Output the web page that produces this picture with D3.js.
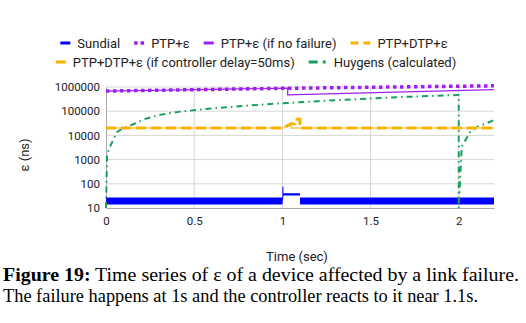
<!DOCTYPE html>
<html>
<head>
<meta charset="utf-8">
<script src="https://cdn.jsdelivr.net/npm/d3@7"></script>
<style>
  body { margin: 0; background: #fff; }
  svg text { font-family: Roboto, "Noto Sans", sans-serif; }
</style>
</head>
<body>
<div id="container"></div>
<script>
// ---- data ----
const timeTicks = [0, 0.5, 1, 1.5, 2];
const epsTicks = [10, 100, 1000, 10000, 100000, 1000000];

const sundialT    = [0, 1.0, 1.0, 1.006, 1.006, 1.1, 1.1, 2.2];
const sundialHigh = [27, 27, 76, 76, 41, 41, 27, 27];
const sundialLow  = [14, 14, 14, 33, 33, 33, 14, 14];

const ptpT = [0, 1, 2.2];
const ptp  = [680000, 880000, 1120000];

const ptpNoFailT = [0, 1.03, 1.03, 2.2];
const ptpNoFail  = [680000, 890000, 470000, 780000];

const dtpT = [0, 1.0, 1.05, 1.07, 1.07, 1.1, 1.1, 2.2];
const dtp  = [20000, 20000, 30000, 30000, 46000, 46000, 20000, 20000];

const delay50T = [0, 1.0, 1.05, 1.05, 2.2];
const delay50  = [20000, 20000, 30000, 20000, 20000];

const huygensT = [0, 0.006, 0.019, 0.063, 0.098, 0.155, 0.223, 0.3, 0.42, 0.6, 0.8, 0.987, 1.2, 1.44, 1.7, 2.0, 2.0, 2.017, 2.065, 2.11, 2.19, 2.2];
const huygens  = [10, 1500, 3000, 14000, 20000, 29000, 48000, 70000, 96000, 130000, 170000, 210000, 260000, 320000, 390000, 470000, 10, 3400, 14000, 23000, 40000, 42000];

const legendRow1 = ["Sundial", "PTP+ε", "PTP+ε (if no failure)", "PTP+DTP+ε"];
const legendRow2 = ["PTP+DTP+ε (if controller delay=50ms)", "Huygens (calculated)"];

const config = {
    width: 526,
    height: 323,
    left: 106,
    right: 494,
    top: 87,
    bottom: 208,
}

const colors = {
    sundial: '#0000ff',
    ptp: '#9d1ff2',
    dtp: '#f5b400',
    delay: '#fbd27a',
    huygens: '#16a05d',
}

const svg = d3.select('#container')
    .append('svg')
    .attr('width', config.width)
    .attr('height', config.height)

const x = d3.scaleLinear()
    .domain([0, 2.2])
    .range([config.left, config.right])

const y = d3.scaleLog()
    .domain([10, 1000000])
    .range([config.bottom, config.top])

// grid
svg.append('g')
    .selectAll('line')
    .data(epsTicks.slice(1))
    .join('line')
    .attr('x1', config.left)
    .attr('x2', config.right)
    .attr('y1', d => y(d))
    .attr('y2', d => y(d))
    .attr('stroke', '#d6d6d6')

svg.append('g')
    .selectAll('line')
    .data(timeTicks.slice(1))
    .join('line')
    .attr('x1', d => x(d))
    .attr('x2', d => x(d))
    .attr('y1', config.top)
    .attr('y2', config.bottom)
    .attr('stroke', '#d6d6d6')

// axes
const yAxis = svg.append('g')
    .attr('transform', `translate(${config.left},0)`)
    .call(d3.axisLeft(y).tickValues(epsTicks).tickFormat(d3.format('d')).tickSize(0).tickPadding(6))
yAxis.select('.domain').attr('stroke', '#aaa')
yAxis.selectAll('text').style('font-size', '11.5px').attr('fill', '#222')

const xAxis = svg.append('g')
    .attr('transform', `translate(0,${config.bottom})`)
    .call(d3.axisBottom(x).tickValues(timeTicks).tickFormat(d3.format('~g')).tickSize(0).tickPadding(9))
xAxis.select('.domain').attr('stroke', '#aaa')
xAxis.selectAll('text').style('font-size', '11.5px').attr('fill', '#222')

svg.append('text')
    .attr('text-anchor', 'middle')
    .attr('transform', 'translate(29,155) rotate(-90)')
    .style('font-size', '13px')
    .attr('fill', '#222')
    .text('ε (ns)')

svg.append('text')
    .attr('text-anchor', 'middle')
    .attr('x', 297)
    .attr('y', 261)
    .style('font-size', '13px')
    .attr('fill', '#222')
    .text('Time (sec)')

// series
const zip = (ts, vs) => ts.map((t, i) => [t, vs[i]])
const line = d3.line().x(d => x(d[0])).y(d => y(d[1]))

svg.append('path')
    .datum(sundialT.map((t, i) => [t, sundialLow[i], sundialHigh[i]]))
    .attr('d', d3.area().x(d => x(d[0])).y0(d => y(d[1])).y1(d => y(d[2])))
    .attr('fill', colors.sundial)

svg.append('path')
    .datum(zip(huygensT, huygens))
    .attr('d', line)
    .attr('fill', 'none')
    .attr('stroke', colors.huygens)
    .attr('stroke-width', 2)
    .attr('stroke-dasharray', '6,4,1.5,4')

svg.append('path')
    .datum(zip(delay50T, delay50))
    .attr('d', line)
    .attr('fill', 'none')
    .attr('stroke', colors.delay)
    .attr('stroke-width', 2)

svg.append('path')
    .datum(zip(dtpT, dtp))
    .attr('d', line)
    .attr('fill', 'none')
    .attr('stroke', colors.dtp)
    .attr('stroke-width', 3)
    .attr('stroke-dasharray', '10,5')

svg.append('path')
    .datum(zip(ptpNoFailT, ptpNoFail))
    .attr('d', line)
    .attr('fill', 'none')
    .attr('stroke', colors.ptp)
    .attr('stroke-width', 1.2)

svg.append('path')
    .datum(zip(ptpT, ptp))
    .attr('d', line)
    .attr('fill', 'none')
    .attr('stroke', colors.ptp)
    .attr('stroke-width', 3.5)
    .attr('stroke-dasharray', '3.5,3.5')

// legend
const legendStyles = {
    "Sundial": {stroke: colors.sundial, w: 10, width: 3, dash: null},
    "PTP+ε": {stroke: colors.ptp, w: 10, width: 3.5, dash: '3.5,3'},
    "PTP+ε (if no failure)": {stroke: colors.ptp, w: 10, width: 3, dash: null},
    "PTP+DTP+ε": {stroke: colors.dtp, w: 20, width: 3, dash: '8,5'},
    "PTP+DTP+ε (if controller delay=50ms)": {stroke: colors.dtp, w: 10, width: 3, dash: null},
    "Huygens (calculated)": {stroke: colors.huygens, w: 18, width: 3, dash: '9,5,3,5'},
}

const drawLegendRow = (labels, cy, center) => {
    const g = svg.append('g')
    let cx = 0
    labels.forEach(label => {
        const st = legendStyles[label]
        g.append('line')
            .attr('x1', cx).attr('x2', cx + st.w)
            .attr('y1', cy).attr('y2', cy)
            .attr('stroke', st.stroke)
            .attr('stroke-width', st.width)
            .attr('stroke-dasharray', st.dash)
        const t = g.append('text')
            .attr('x', cx + st.w + 7)
            .attr('y', cy)
            .attr('dominant-baseline', 'central')
            .style('font-size', '13px')
            .attr('fill', '#222')
            .text(label)
        cx += st.w + 7 + t.node().getComputedTextLength() + 14
    })
    const total = cx - 14
    g.attr('transform', `translate(${center - total / 2},0)`)
}
drawLegendRow(legendRow1, 43, 254)
drawLegendRow(legendRow2, 62, 256)

// caption
const cap = svg.append('g').attr('fill', '#000')
const c1 = cap.append('text').attr('x', 3).attr('y', 281)
    .style('font-family', '"Liberation Serif", "Times New Roman", serif').style('font-size', '18px')
    .attr('textLength', 516).attr('lengthAdjust', 'spacingAndGlyphs')
c1.append('tspan').attr('font-weight', 'bold').text('Figure 19:')
c1.append('tspan').text(' Time series of ε of a device affected by a link failure.')
cap.append('text').attr('x', 3).attr('y', 302)
    .style('font-family', '"Liberation Serif", "Times New Roman", serif').style('font-size', '18px')
    .attr('textLength', 475).attr('lengthAdjust', 'spacingAndGlyphs')
    .text('The failure happens at 1s and the controller reacts to it near 1.1s.')
</script>
</body>
</html>
